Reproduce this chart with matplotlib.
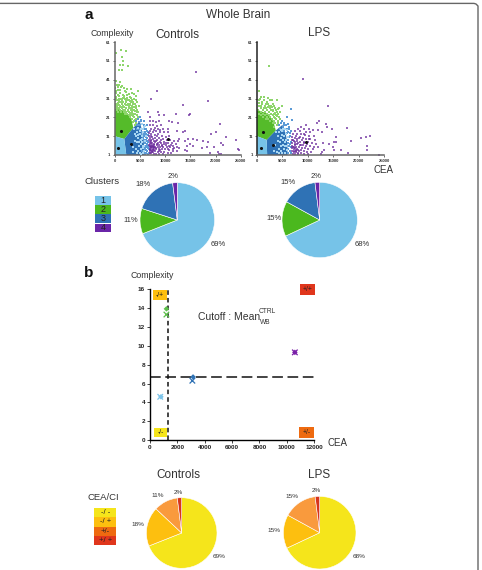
import numpy as np
import matplotlib
matplotlib.use('Agg')
import matplotlib.pyplot as plt
from matplotlib.patches import Rectangle

plt.rcParams['font.family'] = ['Liberation Sans', 'DejaVu Sans']

W, H = 482, 570
TXT = '#333333'

# Cluster colours
C_LIGHT = '#76c3e8'
C_GREEN = '#55bb2a'
C_BLUE = '#2f72b5'
C_PURPLE = '#6a2a9c'
PIE_CLUSTER = ['#76c3e8', '#4bb81e', '#2f72b5', '#6a25a8']
PIE_QUAD = ['#f5e51b', '#fdbf0f', '#f99a3d', '#d7341c']

# Pie shares
ctrl_clusters = [69, 11, 18, 2]
lps_clusters = [68, 15, 15, 2]
ctrl_quads = [69, 18, 11, 2]
lps_quads = [68, 15, 15, 2]

xticks_a = [0, 5000, 10000, 15000, 20000, 25000]
yticks_a = [1, 11, 21, 31, 41, 51, 61]
xticks_b = [0, 2000, 4000, 6000, 8000, 10000, 12000]
yticks_b = [0, 2, 4, 6, 8, 10, 12, 14, 16]

# Solid cores of the dense clusters, CEA / complexity
ctrl_light_core = [(0, 1), (2300, 1), (1900, 9.5), (0, 11)]
ctrl_green_core = [(0, 11), (1900, 9.5), (3700, 15.5), (3300, 20), (2200, 24), (0, 26)]
ctrl_blue_core = [(2300, 1), (1900, 9.5), (3700, 15.5), (5000, 19), (5400, 14), (5800, 7), (5800, 1)]
lps_light_core = [(0, 1), (2000, 1), (1900, 9), (0, 11)]
lps_green_core = [(0, 11), (1900, 9), (3700, 14), (3200, 19), (2000, 23), (0, 25)]
lps_blue_core = [(2000, 1), (1900, 9), (3700, 14), (5000, 17), (5700, 12), (6000, 6), (6000, 1)]

ctrl_green = np.array([
    (1300, 57), (2200, 56), (1400, 53), (1600, 51), (1000, 49), (300, 55), (1500, 46), (800, 46),
    (2700, 48), (1700, 49), (400, 38), (900, 38), (1200, 37), (700, 37), (2500, 36), (3200, 36),
    (4600, 35), (3500, 34), (2000, 35), (1000, 34), (300, 35), (600, 33), (1600, 33), (2400, 33),
    (3900, 31), (4300, 30), (4500, 29), (3000, 32), (200, 32), (800, 31), (1300, 31), (2100, 31),
    (2800, 30), (3400, 30), (3700, 29), (500, 30), (1000, 29), (1700, 29), (2300, 29), (3100, 28),
    (4000, 28), (4900, 27), (200, 28), (700, 28), (1400, 28), (2000, 28), (2600, 28), (3500, 27),
    (4300, 26), (400, 27), (1100, 27), (1700, 27), (2300, 26), (2900, 26), (3200, 26), (3900, 25),
    (4600, 24), (200, 26), (800, 26), (1400, 26), (2000, 25), (2600, 25), (3400, 24), (4100, 23),
    (500, 25), (1100, 25), (1700, 25), (2300, 24), (2900, 24), (3600, 23), (4500, 22), (4800, 21),
    (3300, 22), (3900, 21), (2800, 22), (2100, 23), (4300, 20), (3500, 20), (3800, 19), (4200, 18),
    (600, 24), (1200, 24), (1900, 24), (2500, 23), (3100, 21), (4000, 17),
])
ctrl_green_extra = np.array([
    (130, 29.7), (350, 31.4), (560, 28.6), (910, 32.3), (1170, 29.4), (1480, 30.3), (1810, 31.7), (2170, 29.8),
    (2480, 31.2), (2720, 27.3), (3020, 29.6), (3280, 31.1), (3610, 27.9), (3830, 26.4), (4170, 27.2), (120, 27.1),
    (460, 26.2), (930, 27.6), (1270, 26.4), (1540, 28.7), (1860, 26.6), (2160, 27.4), (2430, 27.7), (2770, 26.7),
    (3060, 27.3), (3370, 25.7), (3660, 24.7), (4040, 24.3), (4410, 23.6), (2640, 24.2), (3090, 23.2), (3440, 22.6),
    (3720, 21.7), (4020, 19.6), (3240, 29.3), (1940, 32.4), (1110, 35.3), (1780, 36.6), (630, 35.6), (2260, 34.2),
    (2890, 33.6), (3860, 33.2), (4180, 32.4), (150, 36.7), (1450, 37.6), (290, 40.2), (1050, 39.5), (4370, 24.9),
    (4650, 21.1), (3550, 18.6), (3890, 22.8), (3160, 24.8), (2370, 30.4), (1620, 31.4), (760, 29.6), (240, 33.8),
])
ctrl_blue = np.array([
    (5000, 21), (5300, 19), (5900, 17), (4600, 20), (4300, 19), (5100, 17), (5600, 15), (4700, 17),
    (6200, 15), (6000, 13), (5500, 13), (5900, 11), (6300, 12), (6500, 10), (6200, 9), (6700, 8),
    (5900, 9), (6400, 7), (6100, 6), (6700, 6), (6300, 5), (6800, 4), (6000, 4), (6500, 3),
    (6200, 2), (6800, 2), (5900, 2), (4900, 15), (5200, 12), (5600, 10), (5700, 5), (5300, 7),
    (4800, 12), (4500, 15), (5000, 9), (5500, 3), (4400, 17), (6600, 13), (5800, 19), (6400, 17),
    (6150, 10.4), (6420, 8.6), (6060, 7.3), (6630, 4.7), (6240, 3.4), (6540, 1.6), (6020, 14.6), (5760, 12.2),
    (6340, 13.7), (5480, 17.6), (5130, 19.4), (4880, 18.3), (6680, 11.4), (5950, 5.2), (6470, 5.9), (6110, 1.7),
])
ctrl_speck = np.array([
    (3900, 15), (4400, 13), (5000, 14), (4700, 10), (5200, 9), (4800, 6), (5300, 4), (5000, 2),
    (5500, 8), (5400, 11), (4500, 8), (4300, 4), (5700, 13), (5800, 6), (5600, 2), (4700, 3),
    (5800, 16), (5200, 15), (4200, 11), (5600, 6), (4050, 8.3), (3720, 5.2), (4560, 11.6), (4930, 12.4),
    (5140, 6.6), (5460, 9.7), (4390, 2.2), (5270, 1.7), (3950, 12.1), (4720, 15.4), (5650, 14.6), (5880, 3.2),
    (6050, 8.2), (6240, 11.2), (6000, 16.2), (5350, 17.3), (4860, 8.1), (5550, 4.6), (3600, 2.6), (3330, 6.2),
])
ctrl_purple = np.array([
    (16130, 45), (8450, 35), (7130, 30.8), (13480, 27.6), (18440, 29.9), (14900, 22.9), (14800, 22.2),
    (8650, 24), (8850, 22.5), (9790, 22.5), (12160, 22.9), (6670, 23.8), (7000, 21), (10800, 19),
    (11440, 18.6), (12630, 18), (20900, 17.3), (20100, 13.4), (19100, 12), (22000, 10.6), (24100, 8.8),
    (24400, 4), (24700, 3.5), (21000, 7.4), (21400, 6.2), (19700, 5.5), (18250, 5.5), (17500, 8.5),
    (18600, 8), (16400, 8.8), (15600, 9.4), (14600, 9.3), (13960, 13.7), (13500, 13.4), (12440, 13.7),
    (10650, 15), (10650, 13), (10800, 11.2), (13950, 8.5), (12800, 9.4), (12630, 8.5), (14280, 5.7),
    (13950, 3.4), (15600, 5.7), (17400, 4.8), (18900, 1.8), (20400, 2.5), (20600, 1.3), (21150, 1.6),
    (14900, 6.6), (14400, 3), (7100, 19), (7600, 19), (8100, 18.5), (8700, 19), (7000, 17), (7500, 17),
    (8400, 16.5), (9100, 17), (7200, 15), (7900, 15.5), (8600, 15), (9500, 15), (7000, 13.5), (7600, 13),
    (8200, 13.5), (9000, 13), (9800, 13), (7200, 12), (7900, 11.5), (8500, 12), (9300, 11), (10100, 10.5),
    (6900, 11), (7400, 10.5), (8000, 10), (8700, 10), (9500, 9.5), (10300, 9), (11000, 9), (11700, 8.5),
    (6900, 9), (7300, 9), (7700, 8.5), (8200, 8.5), (8900, 8), (9700, 8), (10500, 7.5), (11300, 7.5),
    (12100, 7), (7000, 8), (7400, 7.5), (7800, 7), (8300, 7), (8800, 6.5), (9400, 6.5), (10100, 6.5),
    (10800, 6), (11600, 6), (12300, 5.5), (6900, 6.5), (7300, 6), (7600, 6), (8000, 5.5), (8500, 5.5),
    (9000, 5), (9600, 5), (10300, 5), (11000, 5), (11800, 4.5), (12800, 4.5), (7000, 5), (7300, 4.5),
    (7500, 5), (7800, 4.5), (8200, 4), (8700, 4), (9300, 4), (10000, 4), (10700, 3.5), (11500, 3),
    (12400, 3), (7100, 3.5), (7400, 3), (7700, 3.5), (8000, 3), (8500, 2.5), (9100, 2.5), (9800, 2.5),
    (10500, 2), (11200, 2), (7000, 2), (7300, 2), (7700, 1.7), (8200, 1.7), (8800, 1.5), (9500, 1.5),
    (7200, 5.5), (7500, 4), (7100, 6), (7400, 5.3), (7600, 3.8), (7300, 3.7),
    (7150, 7.3), (7460, 6.4), (7240, 8.2), (7620, 9.7), (6970, 7.1), (7880, 6.2), (8130, 4.7), (8360, 6.1),
    (7040, 4.1), (7340, 2.6), (7560, 2.7), (6920, 3.1), (7760, 5.3), (8040, 8.1), (8470, 9.2), (7180, 11.2),
    (8620, 7.4), (9120, 7.3), (9360, 5.6), (9840, 6.9), (8760, 3.1), (9060, 3.6), (10260, 7.6), (10540, 4.3),
    (11240, 6.4), (11470, 4.2), (7020, 9.8), (8310, 11.1), (9190, 9.2), (6860, 12.6), (7730, 14.4), (8910, 14.2),
])

lps_green = np.array([
    (2400, 48), (300, 35), (700, 32), (1300, 30), (2500, 30), (3900, 30), (300, 30), (1900, 29),
    (3100, 28), (900, 28), (4900, 27), (300, 27), (1500, 27), (2300, 27), (3500, 26), (4300, 26),
    (700, 26), (1100, 25), (1900, 25), (2700, 25), (3100, 25), (200, 25), (3900, 24), (4600, 24),
    (1500, 24), (2300, 24), (700, 24), (3400, 23), (4200, 23), (1100, 23), (1900, 23), (2800, 23),
    (300, 23), (3100, 22), (3700, 22), (1500, 22), (2300, 22), (700, 22), (2600, 21), (3400, 21),
    (4500, 20), (1900, 21), (1100, 21), (3000, 20), (3800, 20), (2200, 20), (2600, 19), (3300, 19),
    (4200, 18), (1700, 20), (3600, 18), (3100, 18), (3900, 17), (3400, 16),
    (470, 28.6), (1060, 29.2), (1680, 27.9), (2110, 28.3), (2760, 27.2), (3340, 27.1), (3720, 25.1), (4090, 25.2),
    (530, 30.7), (1440, 31.6), (2230, 31.1), (2960, 30.1), (3240, 24.1), (2470, 25.8), (1290, 26.2), (870, 26.9),
    (1730, 25.8), (2080, 26.6), (2930, 26.3), (3590, 23.4), (4380, 21.4), (4010, 21.7), (3520, 20.4), (4120, 19.2),
])
lps_blue = np.array([
    (6700, 25.5), (5900, 21), (6800, 19.4), (5300, 18), (4800, 18), (5700, 17), (6300, 16), (4400, 17),
    (5100, 16), (6600, 14), (6100, 13), (6500, 11), (6200, 9), (6600, 8), (6300, 6), (6700, 5),
    (6400, 3), (6700, 2), (5900, 15), (4600, 15), (5400, 14), (6100, 4), (6100, 7.5), (6500, 12.5),
    (6260, 10.4), (6480, 6.9), (6180, 2.2), (6350, 14.7), (5820, 12.8), (5230, 16.9), (4960, 19.3), (6040, 17.6),
])
lps_speck = np.array([
    (3800, 13), (4400, 13), (5000, 14), (4700, 10), (5200, 9), (4800, 6), (5300, 4), (5000, 2),
    (5500, 8), (5400, 11), (4500, 8), (4300, 4), (5700, 12), (5800, 6), (5600, 2), (4700, 3),
    (5500, 15), (5200, 15), (4200, 11), (5600, 6), (3640, 6.3), (4060, 8.6), (3420, 3.1), (4910, 11.4),
    (5120, 6.3), (5780, 9.2), (4370, 1.9), (5930, 3.6), (6090, 10.7), (5820, 14.3), (4650, 14.1), (3970, 2.4),
])
lps_purple = np.array([
    (9000, 41.2), (14020, 26.9), (12300, 19), (11840, 18), (13500, 17.4), (13800, 16), (17660, 15.5),
    (14700, 14.6), (11000, 14.5), (12000, 14.5), (12700, 13), (15600, 10.7), (18450, 8.4), (20440, 10),
    (21430, 10.5), (22230, 11), (21630, 6), (21630, 3.9), (24100, 1.2), (17900, 1.9), (16600, 3.6),
    (15000, 5.4), (15600, 8), (15150, 8), (12950, 7.5), (14100, 7), (13100, 3.6), (12800, 2.5),
    (15200, 3.6), (12500, 1.5), (9700, 17), (8700, 16), (8000, 15), (9200, 15), (10300, 15),
    (7500, 13.5), (8400, 14), (9600, 13), (10500, 13), (7100, 12), (7800, 12), (8700, 12), (9400, 11.5),
    (10200, 11), (11200, 11), (6900, 10.5), (7500, 10), (8200, 10), (9000, 10), (9700, 9.5), (10500, 9.5),
    (11500, 9), (6800, 9), (7300, 8.5), (7900, 8.5), (8500, 8), (9200, 8), (10000, 8), (10800, 7.5),
    (11700, 7), (6900, 7.5), (7400, 7), (7900, 6.8), (8400, 6.5), (9000, 6.3), (9600, 6), (10400, 5.7),
    (11200, 5.5), (12100, 5.5), (6900, 6), (7300, 5.5), (7700, 5.3), (8200, 5), (8800, 4.7), (9400, 4.5),
    (10100, 4.2), (11000, 4), (6900, 4.5), (7200, 4), (7600, 3.8), (8000, 3.7), (8600, 3.4), (9200, 3),
    (9900, 2.8), (10700, 2.5), (6900, 3), (7200, 2.7), (7600, 2.4), (8100, 2.3), (8700, 2), (9300, 1.7),
    (7100, 1.7), (7500, 1.4), (8000, 1.3), (10100, 1.7), (7400, 6.2), (7700, 3), (7300, 3.2),
    (7140, 8.7), (7560, 7.8), (7820, 9.4), (8160, 7.6), (8640, 6.4), (8930, 8.7), (9340, 7.2), (9860, 6.8),
    (10240, 9.7), (7020, 5.1), (7460, 4.6), (7840, 4.3), (8330, 3.1), (8520, 10.8), (9170, 12.3), (7660, 11.2),
])

# Centroids of the four clusters
ctrl_centers = np.array([(720, 4.6), (1190, 13.9), (3170, 6.7), (10640, 9.3)])
lps_centers = np.array([(800, 4.5), (1250, 13.3), (3100, 6.3), (9650, 8.0)])

# Panel b keeps the same centroids but plots the LPS group on the combined scale
b_ctrl_x = [800, 1200, 3150, 10600]
b_ctrl_y = [4.6, 13.9, 6.7, 9.3]
b_lps_x = [750, 1200, 3100, 10600]
b_lps_y = [4.6, 13.3, 6.3, 9.3]
b_colors = ['#7cc4ea', '#5cc04a', '#2f72b5', '#7a1fa8']

cutoff_x = 1350
cutoff_y = 6.7

# (x0, x1, y0, y1, colour, label) of the quadrant tags
quad_tags = [
    (195, 1270, 14.87, 15.86, '#fdbf0f', '-/+'),
    (290, 1270, 0.35, 1.34, '#f5e51b', '-/-'),
    (10950, 12070, 15.4, 16.5, '#e0361c', '+/+'),
    (10880, 12000, 0.28, 1.37, '#ee6a10', '+/-'),
]


def axes_px(fig, left, top, right, bottom):
    # axes placed with pixel edges, y counted from the top
    return fig.add_axes([left / W, 1 - bottom / H, (right - left) / W, (bottom - top) / H])


def label(fig, x, y, s, size=7, **kw):
    kw.setdefault('color', TXT)
    kw.setdefault('ha', 'center')
    fig.text(x / W, 1 - y / H, s, fontsize=size, va='center', **kw)


def cluster_panel(fig, box, light, green, blue, g_pts, b_pts, speck, p_pts, centers, ycolor):
    ax = axes_px(fig, *box)
    ax.set_xlim(0, 25000)
    ax.set_ylim(1, 61)
    ax.fill(*zip(*green), color=C_GREEN, lw=0, zorder=1)
    ax.fill(*zip(*blue), color=C_BLUE, lw=0, zorder=1)
    ax.fill(*zip(*light), color=C_LIGHT, lw=0, zorder=1)
    ax.scatter(g_pts[:, 0], g_pts[:, 1], s=1.6, marker='s', color='#8ed56c', lw=0, zorder=2)
    ax.scatter(b_pts[:, 0], b_pts[:, 1], s=1.6, marker='s', color='#5a9ad6', lw=0, zorder=2)
    ax.scatter(speck[:, 0], speck[:, 1], s=1.3, marker='s', color='#a8d6f2', lw=0, zorder=3)
    ax.scatter(p_pts[:, 0], p_pts[:, 1], s=1.6, marker='s', color=C_PURPLE, alpha=0.7, lw=0, zorder=2)
    ax.scatter(centers[:, 0], centers[:, 1], s=5, marker='o', color='#111111', lw=0, zorder=4, clip_on=False)
    for side in ['top', 'right']:
        ax.spines[side].set_visible(False)
    ax.spines['left'].set_color(ycolor)
    ax.spines['bottom'].set_color('#666666')
    ax.spines['left'].set_linewidth(1.1)
    ax.spines['bottom'].set_linewidth(1.1)
    ax.set_xticks(xticks_a)
    ax.set_yticks(yticks_a)
    ax.tick_params(length=1.5, width=0.5, labelsize=3, pad=1.5, colors='#333333')
    for t in ax.get_xticklabels() + ax.get_yticklabels():
        t.set_fontweight('bold')
    return ax


def pie_px(fig, cx, cy, r, values, colors):
    ax = axes_px(fig, cx - r, cy - r, cx + r, cy + r)
    ax.pie(values, colors=colors, startangle=90, counterclock=False, radius=1,
           wedgeprops={'linewidth': 0.4, 'edgecolor': 'white'}, normalize=True)
    ax.set_xlim(-1, 1)
    ax.set_ylim(-1, 1)
    return ax


fig = plt.figure(figsize=(W / 100, H / 100), dpi=100)

# page frame, top edge and right edge with a small corner
frame_x = np.array([0, 474, 476, 478, 478]) / W
frame_y = 1 - np.array([3.4, 3.4, 4, 6, H]) / H
fig.add_artist(plt.Line2D(frame_x, frame_y, color='#666666', lw=1))

# Panel a
label(fig, 89, 15, 'a', size=11, fontweight='bold', color='#111111')
label(fig, 238, 14.5, 'Whole Brain', size=8.5)
label(fig, 112, 34, 'Complexity', size=6.3)
label(fig, 177, 35, 'Controls', size=8.5)
label(fig, 319, 33, 'LPS', size=8.5)
label(fig, 383, 170, 'CEA', size=7)

cluster_panel(fig, (114.7, 42, 240.7, 155), ctrl_light_core, ctrl_green_core, ctrl_blue_core,
              np.vstack([ctrl_green, ctrl_green_extra]), ctrl_blue, ctrl_speck, ctrl_purple,
              ctrl_centers, '#666666')
cluster_panel(fig, (257, 42, 384, 155), lps_light_core, lps_green_core, lps_blue_core,
              lps_green, lps_blue, lps_speck, lps_purple, lps_centers, '#222222')

pie_px(fig, 177.3, 220, 37.3, ctrl_clusters, PIE_CLUSTER)
pie_px(fig, 319.7, 220, 37.7, lps_clusters, PIE_CLUSTER)

for (x, y), v in zip([(218, 245), (131, 221), (143, 185), (173, 176)], ctrl_clusters):
    label(fig, x, y, f'{v}%', size=5.5)
for (x, y), v in zip([(362, 244), (273.7, 219), (288, 182.5), (315.7, 176)], lps_clusters):
    label(fig, x, y, f'{v}%', size=5.5)

# Cluster legend
label(fig, 101.7, 181.7, 'Clusters', size=6.8)
leg = axes_px(fig, 95.3, 196, 110.7, 232.7)
leg.set_xlim(0, 1)
leg.set_ylim(4, 0)
leg.axis('off')
for i, (c, s) in enumerate(zip(PIE_CLUSTER, ['1', '2', '3', '4'])):
    leg.add_patch(Rectangle((0, i), 1, 0.94, color=c, lw=0))
    leg.text(0.5, i + 0.47, s, ha='center', va='center', fontsize=6.5, color='#222222')

# Panel b
label(fig, 89, 273, 'b', size=11, fontweight='bold', color='#111111')
label(fig, 152, 276, 'Complexity', size=6.3)
label(fig, 229, 316.7, 'Cutoff : Mean', size=7.5)
label(fig, 267, 311.7, 'CTRL', size=4.8)
label(fig, 265, 323, 'WB', size=4.8)
label(fig, 337.7, 443, 'CEA', size=7)

ax = axes_px(fig, 150, 289, 314, 440.3)
ax.set_xlim(0, 12000)
ax.set_ylim(0, 16)
ax.plot([0, 12000], [cutoff_y, cutoff_y], color='#111111', lw=1.1, dashes=(7, 3), clip_on=False)
ax.plot([cutoff_x, cutoff_x], [0, 16], color='#111111', lw=1.1, dashes=(3, 2), clip_on=False)
ax.scatter(b_ctrl_x, b_ctrl_y, c=b_colors, marker='D', s=8, lw=0, zorder=3)
ax.scatter(b_lps_x, b_lps_y, c=b_colors, marker='x', s=16, lw=0.9, zorder=3)
for x0, x1, y0, y1, c, s in quad_tags:
    ax.add_patch(Rectangle((x0, y0), x1 - x0, y1 - y0, color=c, lw=0, zorder=4, clip_on=False))
    ax.text((x0 + x1) / 2, (y0 + y1) / 2, s, ha='center', va='center', fontsize=4.8, color='#222222', zorder=5)
for side in ['top', 'right']:
    ax.spines[side].set_visible(False)
ax.spines['left'].set_linewidth(1)
ax.spines['bottom'].set_linewidth(1)
ax.set_xticks(xticks_b)
ax.set_yticks(yticks_b)
ax.tick_params(length=2, width=0.6, labelsize=4.6, pad=1.5, colors='#222222')
for t in ax.get_xticklabels() + ax.get_yticklabels():
    t.set_fontweight('bold')

# Quadrant pies
label(fig, 178, 475, 'Controls', size=8.5)
label(fig, 319, 475, 'LPS', size=8.5)
pie_px(fig, 181.7, 533, 35.3, ctrl_quads, PIE_QUAD)
pie_px(fig, 319.7, 532.7, 36.3, lps_quads, PIE_QUAD)

for (x, y), v in zip([(219, 556.7), (137.7, 524.7), (158, 495.7), (178.7, 492)], ctrl_quads):
    label(fig, x, y, f'{v}%', size=4.6)
for (x, y), v in zip([(358.7, 556), (273.7, 530.7), (291.7, 497), (316.7, 491)], lps_quads):
    label(fig, x, y, f'{v}%', size=4.6)

# Quadrant legend
label(fig, 103, 497, 'CEA/CI', size=6.8)
leg2 = axes_px(fig, 94, 508, 116.3, 545)
leg2.set_xlim(0, 1)
leg2.set_ylim(4, 0)
leg2.axis('off')
quad_colors = ['#f5e51b', '#fdbf0f', '#ee6a10', '#e0361c']
for i, (c, s) in enumerate(zip(quad_colors, ['-/ -', '-/ +', '+/-', '+/ +'])):
    leg2.add_patch(Rectangle((0, i), 1, 1, color=c, lw=0))
    leg2.text(0.5, i + 0.5, s, ha='center', va='center', fontsize=5.5, color='#222222')

fig.savefig('out.png', dpi=100)
